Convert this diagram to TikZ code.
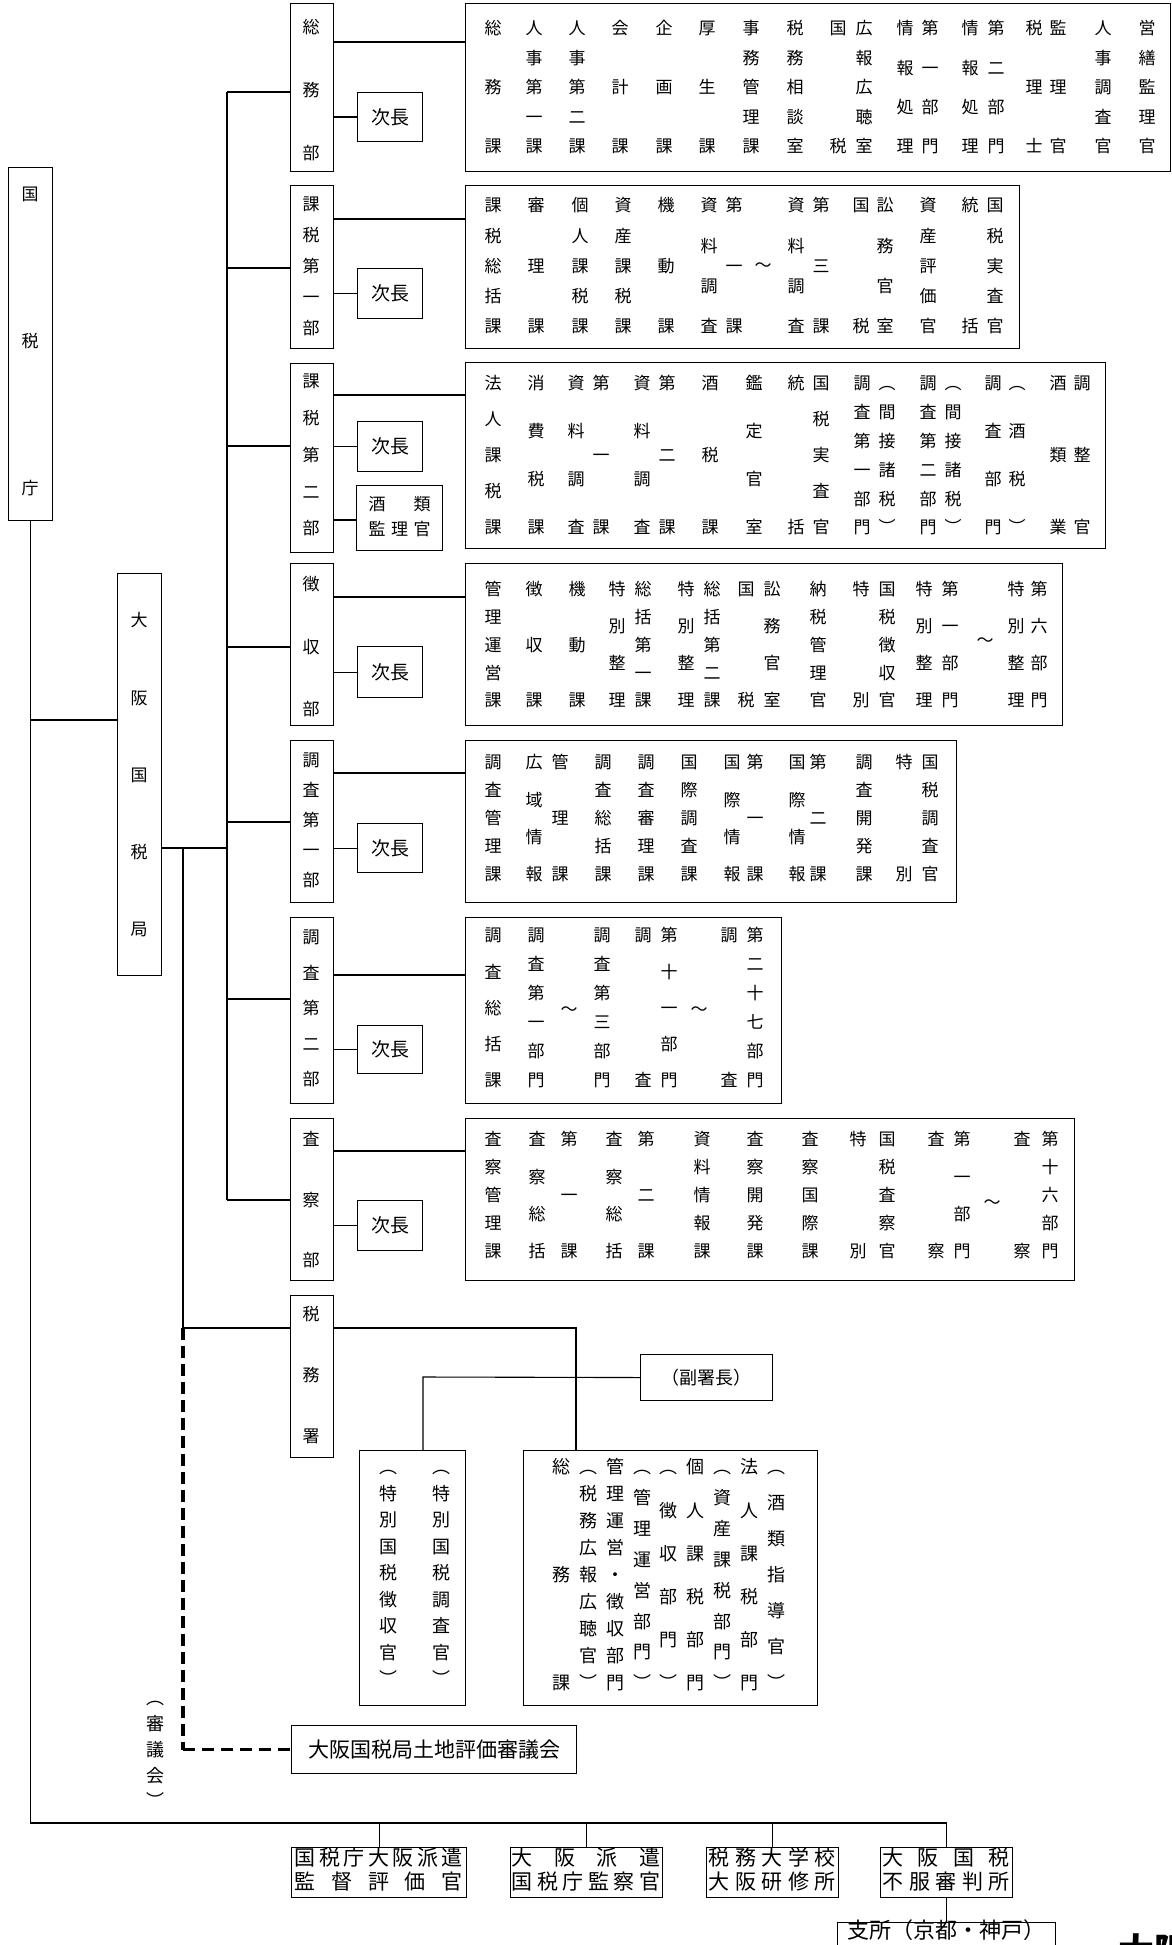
\documentclass[tikz,border=0pt]{standalone}
\usepackage{fontspec}
\setmainfont{Noto Sans CJK JP}
\newcounter{chn}
\tikzset{
 x=1pt,y=-1pt,
 ch/.style={inner sep=0pt,text height=0.88em,text depth=0.12em,anchor=center},
 bx/.style={draw,line width=1.1pt,inner sep=0pt,anchor=north west},
 jb/.style={bx,minimum width=65pt,font=\fontsize{19}{19}\selectfont,text height=16.7pt,text depth=2.3pt},
 ln/.style={line width=1.1pt},
 dsv/.style={line width=3.4pt,dash pattern=on 12pt off 6pt},
 dsh/.style={line width=2.4pt,dash pattern=on 12pt off 7pt},
}
% vertical distributed column: [size]{x}{top}{bottom}{n}{list}
\newcommand\vc[6][17]{\foreach \chr [count=\i] in {#6}{\stepcounter{chn}\node[ch,font=\fontsize{#1}{#1}\selectfont,name=c\arabic{chn}] at ({#2},{#3+(\i-1)*(#4-#3)/(#5-1)}) {\chr};}}
% horizontal distributed row: [size]{y}{x1}{x2}{n}{list}
\newcommand\hd[6][21]{\foreach \chr [count=\i] in {#6}{\stepcounter{chn}\node[ch,font=\fontsize{#1}{#1}\selectfont,name=c\arabic{chn}] at ({#3+(\i-1)*(#4-#3)/(#5-1)},{#2}) {\chr};}}
% single character
\newcommand\sch[4][17]{\stepcounter{chn}\node[ch,font=\fontsize{#1}{#1}\selectfont,name=c\arabic{chn}] at (#2,#3) {#4};}
\begin{document}
\begin{tikzpicture}
\fill[white] (0,0) rectangle (1171,1945);
\useasboundingbox (0,0) rectangle (1171,1945);
% ---------- boxes ----------
\node[bx,minimum width=44pt,minimum height=353pt] (k) at (8,167) {};
\node[bx,minimum width=44pt,minimum height=402pt] (o) at (117,573) {};
% departments
\node[bx,minimum width=43pt,minimum height=168pt] (d1) at (290,3) {};
\node[bx,minimum width=43pt,minimum height=163pt] (d2) at (290,185) {};
\node[bx,minimum width=43pt,minimum height=189pt] (d3) at (290,363) {};
\node[bx,minimum width=43pt,minimum height=162pt] (d4) at (290,563) {};
\node[bx,minimum width=43pt,minimum height=162pt] (d5) at (290,740) {};
\node[bx,minimum width=43pt,minimum height=186pt] (d6) at (290,917) {};
\node[bx,minimum width=43pt,minimum height=162pt] (d7) at (290,1118) {};
\node[bx,minimum width=43pt,minimum height=162pt] (d8) at (290,1295) {};
% lists
\node[bx,minimum width=705pt,minimum height=168pt] (l1) at (465,3) {};
\node[bx,minimum width=554pt,minimum height=163pt] (l2) at (465,185) {};
\node[bx,minimum width=640pt,minimum height=186pt] (l3) at (465,362) {};
\node[bx,minimum width=597pt,minimum height=162pt] (l4) at (465,563) {};
\node[bx,minimum width=491pt,minimum height=162pt] (l5) at (465,740) {};
\node[bx,minimum width=316pt,minimum height=186pt] (l6) at (465,917) {};
\node[bx,minimum width=609pt,minimum height=162pt] (l7) at (465,1118) {};
% jicho
\node[jb,minimum height=49pt] (j1) at (357,92) {次長};
\node[jb,minimum height=50pt] (j2) at (357,268) {次長};
\node[jb,minimum height=50pt] (j3) at (357,421) {次長};
\node[jb,minimum height=51pt] (j4) at (357,646) {次長};
\node[jb,minimum height=49pt] (j5) at (357,823) {次長};
\node[jb,minimum height=48pt] (j6) at (357,1025) {次長};
\node[jb,minimum height=50pt] (j7) at (357,1200) {次長};
\node[bx,minimum width=86pt,minimum height=65pt] (sr) at (356,485) {};
% tax office parts
\node[bx,minimum width=106pt,minimum height=255pt] (t) at (359,1450) {};
\node[bx,minimum width=294pt,minimum height=255pt] (b) at (523,1450) {};
\node[bx,minimum width=132pt,minimum height=46pt,font=\fontsize{18}{18}\selectfont,text height=15.8pt,text depth=2.2pt] (f) at (640,1354) {（副署長）};
\node[bx,minimum width=285pt,minimum height=48pt,font=\fontsize{21}{21}\selectfont,text height=18.5pt,text depth=2.5pt] (s) at (291,1725) {大阪国税局土地評価審議会};
% bottom boxes
\node[bx,minimum width=175pt,minimum height=50pt] (A) at (291,1847) {};
\node[bx,minimum width=152pt,minimum height=50pt] (B) at (510,1847) {};
\node[bx,minimum width=132pt,minimum height=50pt] (C) at (706,1847) {};
\node[bx,minimum width=132pt,minimum height=50pt] (D) at (880,1847) {};
\node[bx,minimum width=218pt,minimum height=30pt] (E) at (837,1922) {};
\node[ch,font=\fontsize{22}{22}\selectfont] (Et) at (946,1935) {支所（京都・神戸）};
\node[inner sep=0pt,anchor=north west,font=\fontsize{36}{36}\selectfont\bfseries] (title) at (1118,1933) {大阪};
% ---------- connectors ----------
\coordinate (mv) at (227,92);
\coordinate (sv) at (183,848);
\draw[ln] (mv) -- (mv |- d7.west);
\foreach \d/\y in {d1/92,d2/268,d3/446,d4/647,d5/822,d6/999,d7/1200}{
  \draw[ln] (mv |- 0,\y) -- (\d.west |- 0,\y);}
\foreach \d/\l/\y in {d1/l1/42,d2/l2/219,d3/l3/395,d4/l4/597,d5/l5/773,d6/l6/975,d7/l7/1151}{
  \draw[ln] (\d.east |- 0,\y) -- (\l.west |- 0,\y);}
\foreach \d/\j in {d1/j1,d2/j2,d3/j3,d4/j4,d5/j5,d6/j6,d7/j7}{
  \draw[ln] (\d.east |- \j.west) -- (\j.west);}
\draw[ln] (d3.east |- 0,520) -- (sr.west |- 0,520);
\draw[ln] (o.east |- sv) -- (mv |- sv);
\draw[ln] (sv) -- (sv |- 0,1328) -- (d8.west |- 0,1328);
\draw[dsv] (sv |- 0,1328) -- (sv |- s.west);
\draw[dsh] (sv |- s.west) -- (s.west);
\draw[ln] (d8.east |- 0,1328) -- (576,1328) -- (b.north -| 576,0);
\draw[ln] (f.west) -- (423,1377) -- (t.north -| 423,0);
\draw[ln] (k.south) -- (k.south |- 0,1823) -- (D.north |- 0,1823) -- (D.north);
\draw[ln] (k.south |- 0,720) -- (o.west |- 0,720);
\foreach \n in {A,B,C}{\draw[ln] (\n.north |- 0,1823) -- (\n.north);}
\draw[ln] (D.south) -- (E.north);
% ---------- texts ----------
\vc{30}{197}{491}{3}{国,税,庁}
\vc{139}{623}{932}{5}{大,阪,国,税,局}
\vc{311}{30}{156}{3}{総,務,部}
\vc{311}{207}{331}{5}{課,税,第,一,部}
\vc{311}{384}{531}{5}{課,税,第,二,部}
\vc{311}{587}{712}{3}{徴,収,部}
\vc{311}{763}{883}{5}{調,査,第,一,部}
\vc{311}{940}{1082}{5}{調,査,第,二,部}
\vc{311}{1142}{1263}{3}{査,察,部}
\vc{311}{1317}{1439}{3}{税,務,署}
\sch{377}{507}{酒}\sch{422}{507}{類}
\hd[17]{532}{377}{422}{3}{監,理,官}
% list 1
\vc{493}{31}{149}{3}{総,務,課}
\vc{534}{31}{149}{5}{人,事,第,一,課}
\vc{577}{31}{149}{5}{人,事,第,二,課}
\vc{620}{31}{149}{3}{会,計,課}
\vc{664}{31}{149}{3}{企,画,課}
\vc{707}{31}{149}{3}{厚,生,課}
\vc{751}{31}{149}{5}{事,務,管,理,課}
\vc{795}{31}{149}{5}{税,務,相,談,室}
\vc{838}{31}{149}{2}{国,税}
\vc{864}{31}{149}{5}{広,報,広,聴,室}
\vc{905}{31}{149}{4}{情,報,処,理}
\vc{930}{31}{149}{4}{第,一,部,門}
\vc{970}{31}{149}{4}{情,報,処,理}
\vc{996}{31}{149}{4}{第,二,部,門}
\vc{1034}{31}{149}{3}{税,理,士}
\vc{1058}{31}{149}{3}{監,理,官}
\vc{1103}{31}{149}{5}{人,事,調,査,官}
\vc{1147}{31}{149}{5}{営,繕,監,理,官}
% list 2
\vc{493}{208}{329}{5}{課,税,総,括,課}
\vc{536}{208}{329}{3}{審,理,課}
\vc{580}{208}{329}{5}{個,人,課,税,課}
\vc{623}{208}{329}{5}{資,産,課,税,課}
\vc{666}{208}{329}{3}{機,動,課}
\vc{709}{208}{329}{4}{資,料,調,査}
\vc{734}{208}{329}{3}{第,一,課}
\sch{763}{268}{～}
\vc{796}{208}{329}{4}{資,料,調,査}
\vc{821}{208}{329}{3}{第,三,課}
\vc{861}{208}{329}{2}{国,税}
\vc{885}{208}{329}{4}{訟,務,官,室}
\vc{928}{208}{329}{5}{資,産,評,価,官}
\vc{970}{208}{329}{2}{統,括}
\vc{995}{208}{329}{5}{国,税,実,査,官}
% list 3
\vc{493}{386}{530}{5}{法,人,課,税,課}
\vc{536}{386}{530}{4}{消,費,税,課}
\vc{576}{386}{530}{4}{資,料,調,査}
\vc{601}{386}{530}{3}{第,一,課}
\vc{642}{386}{530}{4}{資,料,調,査}
\vc{667}{386}{530}{3}{第,二,課}
\vc{710}{386}{530}{3}{酒,税,課}
\vc{754}{386}{530}{4}{鑑,定,官,室}
\vc{796}{386}{530}{2}{統,括}
\vc{821}{386}{530}{5}{国,税,実,査,官}
\vc{862}{386}{530}{6}{調,査,第,一,部,門}
\vc{887}{386}{530}{6}{︵,間,接,諸,税,︶}
\vc{928}{386}{530}{6}{調,査,第,二,部,門}
\vc{953}{386}{530}{6}{︵,間,接,諸,税,︶}
\vc{993}{386}{530}{4}{調,査,部,門}
\vc{1017}{386}{530}{4}{︵,酒,税,︶}
\vc{1058}{386}{530}{3}{酒,類,業}
\vc{1082}{386}{530}{3}{調,整,官}
% list 4
\vc{493}{592}{703}{5}{管,理,運,営,課}
\vc{534}{592}{703}{3}{徴,収,課}
\vc{577}{592}{703}{3}{機,動,課}
\vc{617}{592}{703}{4}{特,別,整,理}
\vc{643}{592}{703}{5}{総,括,第,一,課}
\vc{686}{592}{703}{4}{特,別,整,理}
\vc{712}{592}{703}{5}{総,括,第,二,課}
\vc{746}{592}{703}{2}{国,税}
\vc{772}{592}{703}{4}{訟,務,官,室}
\vc{818}{592}{703}{5}{納,税,管,理,官}
\vc{861}{592}{703}{2}{特,別}
\vc{887}{592}{703}{5}{国,税,徴,収,官}
\vc{924}{592}{703}{4}{特,別,整,理}
\vc{950}{592}{703}{4}{第,一,部,門}
\sch{985}{643}{～}
\vc{1016}{592}{703}{4}{特,別,整,理}
\vc{1039}{592}{703}{4}{第,六,部,門}
% list 5
\vc{493}{765}{877}{5}{調,査,管,理,課}
\vc{534}{765}{877}{4}{広,域,情,報}
\vc{560}{765}{877}{3}{管,理,課}
\vc{603}{765}{877}{5}{調,査,総,括,課}
\vc{646}{765}{877}{5}{調,査,審,理,課}
\vc{689}{765}{877}{5}{国,際,調,査,課}
\vc{732}{765}{877}{4}{国,際,情,報}
\vc{755}{765}{877}{3}{第,一,課}
\vc{797}{765}{877}{4}{国,際,情,報}
\vc{818}{765}{877}{3}{第,二,課}
\vc{864}{765}{877}{5}{調,査,開,発,課}
\vc{904}{765}{877}{2}{特,別}
\vc{930}{765}{877}{5}{国,税,調,査,官}
% list 6
\vc{493}{938}{1083}{5}{調,査,総,括,課}
\vc{536}{938}{1083}{6}{調,査,第,一,部,門}
\sch{569}{1012}{～}
\vc{602}{938}{1083}{6}{調,査,第,三,部,門}
\vc{643}{938}{1083}{2}{調,査}
\vc{669}{938}{1083}{5}{第,十,一,部,門}
\sch{699}{1012}{～}
\vc{729}{938}{1083}{2}{調,査}
\vc{755}{938}{1083}{6}{第,二,十,七,部,門}
% list 7
\vc{493}{1142}{1254}{5}{査,察,管,理,課}
\vc{537}{1142}{1254}{4}{査,察,総,括}
\vc{569}{1142}{1254}{3}{第,一,課}
\vc{614}{1142}{1254}{4}{査,察,総,括}
\vc{646}{1142}{1254}{3}{第,二,課}
\vc{702}{1142}{1254}{5}{資,料,情,報,課}
\vc{755}{1142}{1254}{5}{査,察,開,発,課}
\vc{810}{1142}{1254}{5}{査,察,国,際,課}
\vc{858}{1142}{1254}{2}{特,別}
\vc{887}{1142}{1254}{5}{国,税,査,察,官}
\vc{936}{1142}{1254}{2}{査,察}
\vc{962}{1142}{1254}{4}{第,一,部,門}
\sch{992}{1205}{～}
\vc{1022}{1142}{1254}{2}{査,察}
\vc{1050}{1142}{1254}{5}{第,十,六,部,門}
% tax office
\vc[18]{388}{1470}{1682}{9}{︵,特,別,国,税,徴,収,官,︶}
\vc[18]{441}{1470}{1682}{9}{︵,特,別,国,税,調,査,官,︶}
\vc[18]{561}{1470}{1686}{3}{総,務,課}
\vc[18]{588}{1470}{1686}{9}{︵,税,務,広,報,広,聴,官,︶}
\vc[18]{615}{1470}{1686}{9}{管,理,運,営,・,徴,収,部,門}
\vc[18]{642}{1470}{1686}{8}{︵,管,理,運,営,部,門,︶}
\vc[18]{668}{1470}{1686}{6}{︵,徴,収,部,門,︶}
\vc[18]{695}{1470}{1686}{6}{個,人,課,税,部,門}
\vc[18]{722}{1470}{1686}{8}{︵,資,産,課,税,部,門,︶}
\vc[18]{749}{1470}{1686}{6}{法,人,課,税,部,門}
\vc[18]{776}{1470}{1686}{7}{︵,酒,類,指,導,官,︶}
\vc[18]{155}{1701}{1804}{5}{︵,審,議,会,︶}
% bottom boxes text
\hd{1862}{305}{452}{7}{国,税,庁,大,阪,派,遣}
\hd{1886}{305}{452}{5}{監,督,評,価,官}
\hd{1862}{522}{650}{4}{大,阪,派,遣}
\hd{1886}{522}{650}{6}{国,税,庁,監,察,官}
\hd{1862}{719}{825}{5}{税,務,大,学,校}
\hd{1886}{719}{825}{5}{大,阪,研,修,所}
\hd{1862}{893}{999}{4}{大,阪,国,税}
\hd{1886}{893}{999}{5}{不,服,審,判,所}
\end{tikzpicture}
\end{document}
